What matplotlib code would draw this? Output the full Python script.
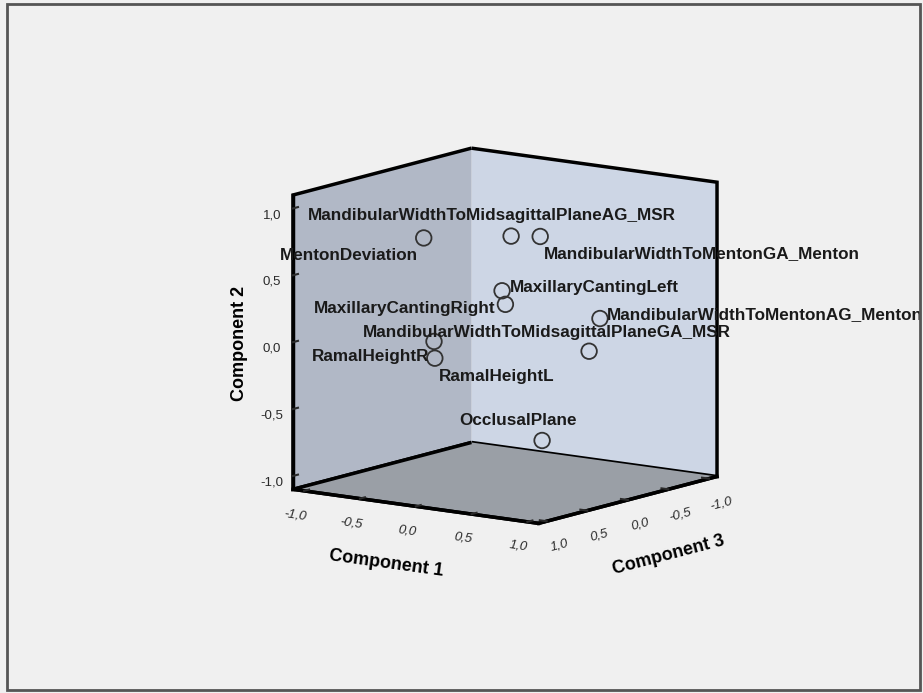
import numpy as np
import matplotlib
matplotlib.use('Agg')
import matplotlib.pyplot as plt
from matplotlib.ticker import FuncFormatter
from matplotlib.patches import Rectangle
from mpl_toolkits.mplot3d import proj3d

# component loadings (depth guessed)
names = ['MentonDeviation',
         'MandibularWidthToMidsagittalPlaneAG_MSR',
         'MandibularWidthToMentonGA_Menton',
         'MaxillaryCantingLeft',
         'MaxillaryCantingRight',
         'MandibularWidthToMentonAG_Menton',
         'MandibularWidthToMidsagittalPlaneGA_MSR',
         'RamalHeightR',
         'RamalHeightL',
         'OcclusalPlane']
comp1 = [-0.51, 0.20, 0.17, 0.337, 0.367, 0.56, 0.39, -0.20, -0.12, 0.405]
comp2 = [0.72, 0.80, 0.73, 0.455, 0.357, 0.13, -0.15, 0.03, -0.07, -0.72]
comp3 = [0.30, 0.20, -0.20, 0.50, 0.50, -0.40, -0.50, 0.60, 0.70, 0.10]
ticks = [-1.0, -0.5, 0.0, 0.5, 1.0]

# label placement (pixel offsets from the point, alignment)
lab_dx = [-6, -203, 4, 8, -10, 7, 142, -5, 4, 35]
lab_dy = [-18, 21, -17, 3, -4, 4, 19, -15, -18, 20]
lab_ha = ['right', 'left', 'left', 'left', 'right', 'left', 'right', 'right', 'left', 'right']

plt.rcParams['font.family'] = ['Liberation Sans', 'DejaVu Sans']

fig = plt.figure(figsize=(9.23, 6.93), dpi=100, facecolor='#f0f0f0')
ax = fig.add_axes([0.1385, 0.079, 0.8, 0.85], projection='3d', proj_type='ortho')
ax.set_facecolor('none')
ax.view_init(elev=11, azim=36)
ax.set_box_aspect((3.22, 3.22, 3.18), zoom=0.863)

ax.scatter(comp3, comp1, comp2, s=125, facecolors='none', edgecolors='#333333',
           linewidths=1.3, depthshade=False)

lim = (-1.1, 1.1)
ax.set_xlim(lim)
ax.set_ylim(lim)
ax.set_zlim(lim)
ax.set_xticks(ticks)
ax.set_yticks(ticks)
ax.set_zticks(ticks)
fmt = FuncFormatter(lambda v, p: ('%.1f' % v).replace('.', ','))
for a in (ax.xaxis, ax.yaxis, ax.zaxis):
    a.set_major_formatter(fmt)
    a.line.set_color('black')
    a.line.set_linewidth(2.5)
    a._axinfo['tick']['inward_factor'] = 0.0
    a._axinfo['tick']['outward_factor'] = 0.35
    a._axinfo['tick']['color'] = 'black'
    a._axinfo['tick']['linewidth'] = {True: 1.5, False: 1.0}
ax.tick_params(labelsize=9.5, colors='#2a2a2a', pad=3)
ax.xaxis.set_tick_params(labelrotation=15)
ax.yaxis.set_tick_params(labelrotation=-8)
for t in ax.xaxis.get_ticklabels() + ax.yaxis.get_ticklabels():
    t.set_fontstyle('italic')
ax.grid(False)

ax.xaxis.set_pane_color('#cdd6e5')
ax.yaxis.set_pane_color('#b1b8c6')
ax.zaxis.set_pane_color('#9a9fa6')
for a in (ax.xaxis, ax.yaxis, ax.zaxis):
    a.pane.set_edgecolor('black')
    a.pane.set_linewidth(2.5)

ax.set_xlabel('Component 3', fontsize=13, fontweight='bold', labelpad=16)
ax.set_ylabel('Component 1', fontsize=13, fontweight='bold', labelpad=16)
ax.set_zlabel('Component 2', fontsize=13, fontweight='bold', labelpad=7)

# point labels, placed on the projected positions
fig.canvas.draw()
px, py, _ = proj3d.proj_transform(np.array(comp3), np.array(comp1), np.array(comp2), ax.get_proj())
for i, n in enumerate(names):
    ax.annotate(n, xy=(px[i], py[i]), xycoords='data', xytext=(lab_dx[i], lab_dy[i]),
                textcoords='offset pixels', ha=lab_ha[i], va='center',
                fontsize=12.3, fontweight='bold', color='#1a1a1a')

fig.patches.append(Rectangle((0.0076, 0.004), 0.989, 0.99, transform=fig.transFigure,
                             fill=False, ec='#555555', lw=2))

plt.savefig('out.png', dpi=100, facecolor=fig.get_facecolor())
